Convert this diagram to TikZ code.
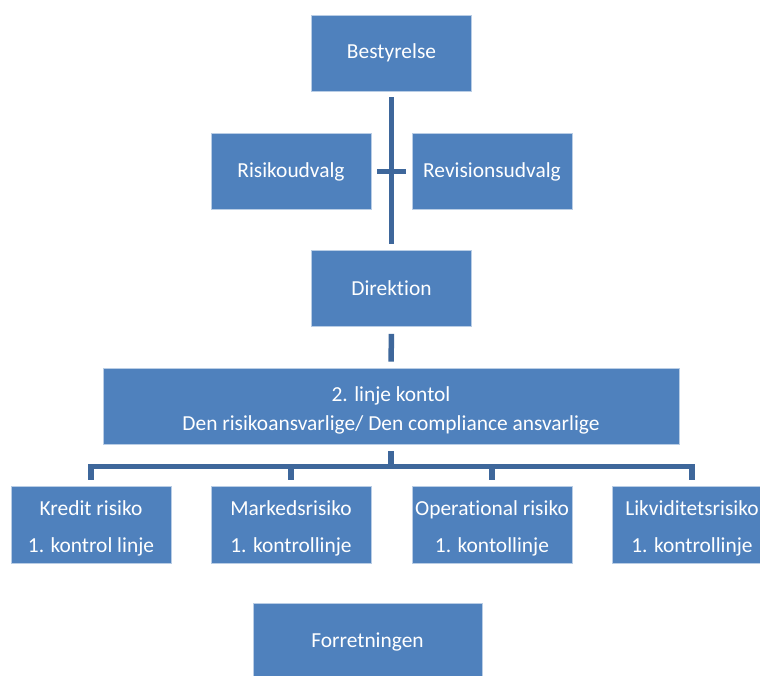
\documentclass[tikz,border=0pt]{standalone}
\usepackage{fontspec}
\setmainfont{Carlito}[Ligatures=NoCommon]
\usepackage{tikz}
\definecolor{boxblue}{RGB}{79,129,189}
\definecolor{linkblue}{RGB}{62,103,155}
\newcommand{\topstrut}{\rule{0pt}{23pt}}
\tikzset{
	orgbox/.style={fill=boxblue, draw=boxblue!40!white, line width=0.6pt, text=white, align=center, inner xsep=0pt,
		minimum width=160pt, minimum height=76pt, font=\fontsize{21.4}{29}\selectfont},
	linkline/.style={draw=linkblue, line width=5.5pt, line join=miter}
}

\begin{document}
\begin{tikzpicture}[x=1pt,y=1pt]
		%%%%% START %%%%%
		
		\fill[white] (0,0) rectangle (760,-675);
		\useasboundingbox (0,0) rectangle (760,-675);
		\clip (0,0) rectangle (760,-675);
		
		\node[orgbox] (best) at (391.5,-53) {Bestyrelse};
		\node[orgbox] (risk) at (291,-171.5) {Risikoudvalg};
		\node[orgbox] (rev) at (492,-171.5) {Revisionsudvalg};
		\node[orgbox] (dir) at (391.5,-288.5) {Direktion};
		
		\node[orgbox, minimum width=576pt] (line2) at (391,-406) {\topstrut 2. linje kontol\\Den risikoansvarlige/ Den compliance ansvarlige};
		
		\node[orgbox, minimum height=77pt] (kred) at (91,-524.5) {\topstrut Kredit risiko\\[8pt]1. kontrol linje};
		\node[orgbox, minimum height=77pt] (mark) at (291,-524.5) {\topstrut Markedsrisiko\\[8pt]1. kontrollinje};
		\node[orgbox, minimum height=77pt] (oper) at (492,-524.5) {\topstrut Operational risiko\\[8pt]1. kontollinje};
		\node[orgbox, minimum height=77pt] (likv) at (692,-524.5) {\topstrut Likviditetsrisiko\\[8pt]1. kontrollinje};
		
		\node[orgbox, minimum width=229pt, minimum height=77pt] (forr) at (367.5,-641.5) {Forretningen};
		
		% connectors
		\draw[linkline, shorten <=6pt, shorten >=6pt] (best) -- (dir);
		\draw[linkline, shorten <=6pt, shorten >=6pt] (risk) -- (rev);
		\draw[linkline, shorten <=7pt, shorten >=6pt] (dir) -- (line2);
		
		\foreach \child in {kred,mark,oper,likv}
			\draw[linkline, shorten <=7pt, shorten >=6pt] (line2.south) -- ++(0,-22) -| (\child.north);
		
		%%%%% END %%%%%
	\end{tikzpicture}
\end{document}
